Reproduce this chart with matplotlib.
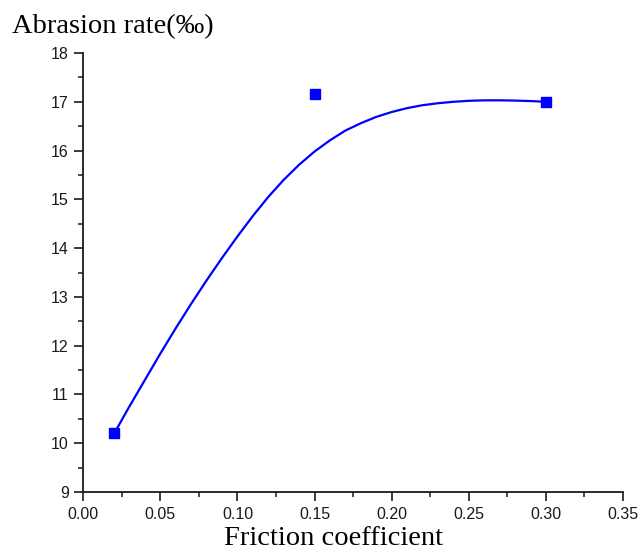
import matplotlib
matplotlib.use('Agg')
import matplotlib.pyplot as plt
from matplotlib.ticker import MultipleLocator, FormatStrFormatter

    # measured data points
friction = [0.02, 0.15, 0.30]
abrasion = [10.2, 17.15, 17.0]

    # smooth fitted curve, every 0.01
curve_x = [0.02, 0.03, 0.04, 0.05, 0.06, 0.07, 0.08, 0.09, 0.10, 0.11,
           0.12, 0.13, 0.14, 0.15, 0.16, 0.17, 0.18, 0.19, 0.20, 0.21,
           0.22, 0.23, 0.24, 0.25, 0.26, 0.27, 0.28, 0.29, 0.30]
curve_y = [10.20, 10.76, 11.30, 11.84, 12.36, 12.86, 13.34, 13.80, 14.24, 14.66,
           15.05, 15.40, 15.71, 15.98, 16.21, 16.41, 16.56, 16.69, 16.79, 16.87,
           16.93, 16.97, 17.00, 17.02, 17.03, 17.03, 17.025, 17.015, 17.0]

plt.rcParams['font.family'] = ['Liberation Sans', 'DejaVu Sans']

fig = plt.figure(figsize=(6.41, 5.54), dpi=100)
ax = fig.add_axes([0.130, 0.1119, 0.8416, 0.7924])

ax.plot(curve_x, curve_y, color='#0000ff', linewidth=1.6)
ax.plot(friction, abrasion, linestyle='none', marker='s', markersize=6.5,
        color='#0000ff')

ax.set_xlim(0.0, 0.35)
ax.set_ylim(9, 18)
ax.xaxis.set_major_locator(MultipleLocator(0.05))
ax.xaxis.set_minor_locator(MultipleLocator(0.025))
ax.yaxis.set_major_locator(MultipleLocator(1))
ax.yaxis.set_minor_locator(MultipleLocator(0.5))
ax.xaxis.set_major_formatter(FormatStrFormatter('%.2f'))
ax.yaxis.set_major_formatter(FormatStrFormatter('%d'))

for side in ['top', 'right']:
    ax.spines[side].set_visible(False)
for side in ['left', 'bottom']:
    ax.spines[side].set_linewidth(1.3)
    ax.spines[side].set_color('#1a1a1a')

ax.tick_params(which='major', direction='out', length=6.5, width=1.2,
               labelsize=11.5, colors='#1a1a1a', pad=4)
ax.tick_params(which='minor', direction='out', length=3.5, width=1.1,
               colors='#1a1a1a')

fig.text(0.521, 0.016, 'Friction coefficient', ha='center', va='baseline',
         fontsize=20.5, family=['Liberation Serif', 'DejaVu Serif'])
fig.text(0.019, 0.94, 'Abrasion rate(\u2030)', ha='left', va='baseline',
         fontsize=20.5, family=['Liberation Serif', 'DejaVu Serif'])

plt.savefig('out.png', dpi=100)
